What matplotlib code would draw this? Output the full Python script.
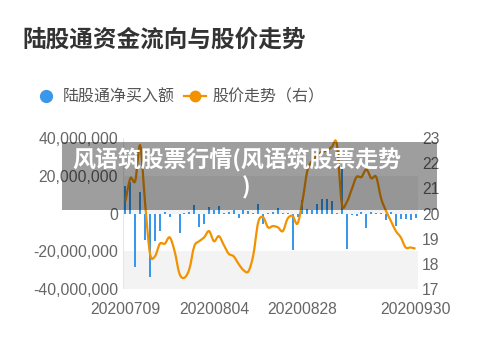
import matplotlib
matplotlib.use('Agg')
import matplotlib.pyplot as plt
from matplotlib.lines import Line2D
from matplotlib.patches import Rectangle
from matplotlib.path import Path
from matplotlib.patches import PathPatch
from matplotlib.ticker import FuncFormatter
import numpy as np

plt.rcParams['font.family'] = ['Liberation Sans', 'Noto Sans CJK SC', 'DejaVu Sans']
cjk = ['Noto Sans CJK SC', 'DejaVu Sans']

# trading days 2020-07-09 .. 2020-09-30
dates = ['20200709', '20200710', '20200713', '20200714', '20200715', '20200716', '20200717',
         '20200720', '20200721', '20200722', '20200723', '20200724', '20200727', '20200728',
         '20200729', '20200730', '20200731',
         '20200803', '20200804', '20200805', '20200806', '20200807', '20200810', '20200811',
         '20200812', '20200813', '20200814', '20200817', '20200818', '20200819', '20200820',
         '20200821', '20200824', '20200825', '20200826', '20200827', '20200828', '20200831',
         '20200901', '20200902', '20200903', '20200904', '20200907', '20200908', '20200909',
         '20200910', '20200911', '20200914', '20200915', '20200916', '20200917', '20200918',
         '20200921', '20200922', '20200923', '20200924', '20200925', '20200928', '20200929',
         '20200930']
shown_dates = ['20200709', '20200804', '20200828', '20200930']

# net buy (yuan)
net_buy = [14.5, 16.6, -28.4, 11.3, -14.3, -33.7, -14.5, -9.2, 0.8, -2.0,
           -0.5, -10.4, 0.5, 0.7, 4.7, -7.0, -5.3, 3.6, 1.9, 3.8,
           0.5, 0.6, 1.8, -2.6, 1.6, 1.2, 0.4, 4.8, -5.5, 0.3,
           0.6, 3.0, 0.3, 0.5, -19.6, -2.0, 7.0, 2.3, 1.6, 5.0,
           7.8, 7.8, 6.4, 0.5, 25.0, -18.7, -0.8, -1.2, 0.6, -7.7,
           1.0, 0.5, 0.4, -3.7, 0.8, -6.6, -2.8, -2.8, -3.7, -2.5]
net_buy = [v * 1e6 for v in net_buy]

# close price (right axis)
price = [20.5, 21.4, 21.3, 22.7, 20.4, 18.4, 18.3, 18.8, 18.8, 19.05,
         18.5, 17.6, 17.45, 17.8, 18.7, 18.9, 19.05, 19.3, 18.9, 19.1,
         18.75, 18.4, 18.3, 18.0, 17.75, 17.7, 18.35, 19.65, 19.85, 19.45,
         19.5, 19.45, 19.3, 19.8, 19.9, 19.6, 20.5, 21.7, 22.1, 22.3,
         22.45, 22.5, 22.65, 22.75, 20.4, 20.45, 20.95, 21.45, 21.45, 21.75,
         21.4, 21.45, 20.6, 20.1, 19.7, 19.3, 19.05, 18.65, 18.65, 18.6]

left_ticks = [-40e6, -20e6, 0, 20e6, 40e6]
right_ticks = [17, 18, 19, 20, 21, 22, 23]

blue = '#3a98ec'
orange = '#f39200'
band = '#f3f3f3'
tick_col = '#666666'

fig = plt.figure(figsize=(5, 3.53), dpi=100)
ax = fig.add_axes([123/500, 1-289/353, 295/500, 151/353])
ax2 = ax.twinx()

x = np.arange(len(dates))
ax.axhspan(-40e6, -20e6, color=band, lw=0, zorder=0)
ax.axhspan(0, 20e6, color=band, lw=0, zorder=0)
ax.bar(x, net_buy, width=0.42, color=blue, zorder=2)
ax.set_xlim(-0.5, len(dates)-0.5)
ax.set_ylim(-40e6, 40e6)
ax.set_yticks(left_ticks)
ax.yaxis.set_major_formatter(FuncFormatter(lambda v, p: '{:,.0f}'.format(v)))
ax.set_xticks([dates.index(d) for d in shown_dates])
ax.set_xticklabels(shown_dates)
ax.tick_params(axis='both', length=0, labelsize=11.3, colors=tick_col)
ax.tick_params(axis='x', pad=9)
ax.tick_params(axis='y', pad=3.5)
for s in ax.spines.values():
    s.set_visible(False)
ax.axvline(-0.5, color='#e6e6e6', lw=0.8, zorder=1)

# smooth price curve (catmull-rom as bezier)
pts = np.column_stack([x, price]).astype(float)
verts = [tuple(pts[0])]
codes = [Path.MOVETO]
n = len(pts)
for i in range(n-1):
    p0 = pts[max(i-1, 0)]
    p1 = pts[i]
    p2 = pts[i+1]
    p3 = pts[min(i+2, n-1)]
    c1 = p1 + (p2 - p0) / 6
    c2 = p2 - (p3 - p1) / 6
    verts += [tuple(c1), tuple(c2), tuple(p2)]
    codes += [Path.CURVE4] * 3
ax2.add_patch(PathPatch(Path(verts, codes), fill=False, edgecolor=orange, lw=1.6, zorder=3))
ax2.set_ylim(17, 23)
ax2.set_yticks(right_ticks)
ax2.tick_params(axis='y', length=0, labelsize=11.3, colors=tick_col, pad=3)
for s in ax2.spines.values():
    s.set_visible(False)

fig.text(22/500, 1-40/353, '陆股通资金流向与股价走势', fontsize=17, fontweight='bold',
         color='#333333', va='center', ha='left', family=cjk)

handles = [Line2D([], [], marker='o', color=blue, linestyle='none', markersize=8.5),
           Line2D([], [], marker='o', color=orange, lw=1.6, markersize=7.5)]
fig.legend(handles, ['陆股通净买入额', '股价走势（右）'], loc='center left',
           bbox_to_anchor=(35/500, 1-97/353), ncol=2, frameon=False,
           handlelength=1.4, handletextpad=0.36, columnspacing=0.55,
           borderaxespad=0, borderpad=0,
           prop={'family': cjk, 'size': 11.5}, labelcolor='#555555')

# watermark overlay
fig.add_artist(Rectangle((62/500, 1-210/353), 375/500, 68/353, transform=fig.transFigure,
                         facecolor='black', alpha=0.38, lw=0, zorder=10))
fig.text(72/500, 1-160/353, '风语筑股票行情(风语筑股票走势', fontsize=16.5, fontweight='bold',
         color='white', va='center', ha='left', family=cjk, zorder=11)
fig.text(246/500, 1-188/353, ')', fontsize=16.5, fontweight='bold',
         color='white', va='center', ha='center', family=cjk, zorder=11)

fig.savefig('out.png', dpi=100)
